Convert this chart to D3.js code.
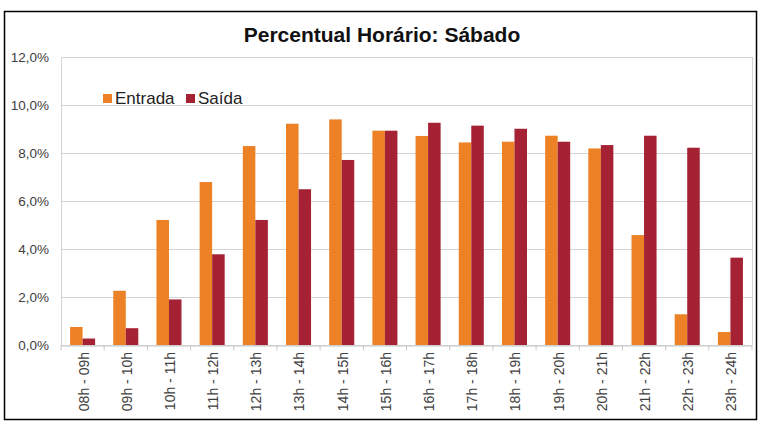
<!DOCTYPE html>
<html><head><meta charset="utf-8">
<script src="https://cdn.jsdelivr.net/npm/d3@7"></script>
<style>body{margin:0;background:#fff}svg{display:block}</style>
</head><body>
<svg id="c" width="767" height="429"></svg>
<script>
const categories = ["08h - 09h","09h - 10h","10h - 11h","11h - 12h","12h - 13h","13h - 14h","14h - 15h","15h - 16h","16h - 17h","17h - 18h","18h - 19h","19h - 20h","20h - 21h","21h - 22h","22h - 23h","23h - 24h"];
const entrada = [0.75, 2.26, 5.21, 6.79, 8.29, 9.22, 9.40, 8.93, 8.71, 8.44, 8.47, 8.72, 8.19, 4.58, 1.28, 0.54];
const saida   = [0.27, 0.70, 1.90, 3.78, 5.21, 6.49, 7.71, 8.93, 9.26, 9.14, 9.01, 8.47, 8.33, 8.72, 8.22, 3.64];
const seriesNames = ["Entrada","Saída"];
const yTicks = [0,2,4,6,8,10,12];
const title = "Percentual Horário: Sábado";

const colors = ["#EC8126","#A52234"];
const svg = d3.select("#c");
const font = "Liberation Sans, Arial, sans-serif";

// outer frame
svg.append("rect").attr("x",4.5).attr("y",11.5).attr("width",752).attr("height",408)
  .attr("fill","none").attr("stroke","#000").attr("stroke-width",1.5);

svg.append("text").attr("x",382).attr("y",42).attr("text-anchor","middle")
  .attr("font-family",font).attr("font-weight","bold").attr("font-size",21).attr("fill","#111")
  .text(title);

const m = {left:61, right:752, top:57, bottom:345};
const x = d3.scaleBand().domain(categories).range([m.left,m.right]).paddingInner(0).paddingOuter(0);
const y = d3.scaleLinear().domain([0,12]).range([m.bottom,m.top]);

// gridlines
svg.append("g").selectAll("line").data(yTicks).join("line")
  .attr("x1",m.left).attr("x2",m.right).attr("y1",d=>y(d)+0.5).attr("y2",d=>y(d)+0.5)
  .attr("stroke","#d4d4d4").attr("stroke-width",1);
// plot border right
svg.append("line").attr("x1",m.right+0.5).attr("x2",m.right+0.5).attr("y1",m.top).attr("y2",m.bottom)
  .attr("stroke","#d4d4d4");

// y axis
const yAxis = d3.axisLeft(y).tickValues(yTicks).tickSize(0).tickPadding(12)
  .tickFormat(d=>d.toFixed(1).replace(".",",")+"%");
const gy = svg.append("g").attr("transform",`translate(${m.left},0)`).call(yAxis);
gy.select(".domain").attr("stroke","#d4d4d4");
gy.selectAll("text").attr("font-family",font).attr("font-size",13.5).attr("fill","#404040");

// bars
const bw = x.bandwidth()/3.45;
const groups = svg.append("g").selectAll("g").data(categories).join("g")
  .attr("transform",d=>`translate(${x(d)+x.bandwidth()/2 - bw},0)`);
[entrada,saida].forEach((arr,si)=>{
  groups.append("rect")
    .attr("x",si*bw).attr("width",bw)
    .attr("y",(d,i)=>y(arr[i])).attr("height",(d,i)=>y(0)-y(arr[i]))
    .attr("fill",colors[si]);
});

// x axis
const xAxis = d3.axisBottom(x).tickSize(0).tickPadding(0);
const gx = svg.append("g").attr("transform",`translate(0,${m.bottom+0.5})`).call(xAxis);
gx.select(".domain").attr("stroke","#c8c8c8");
gx.selectAll(".tick text").remove();
// category boundary ticks
gx.selectAll("line.bt").data(categories.concat(["end"])).join("line").attr("class","bt")
  .attr("x1",(d,i)=>m.left+i*x.step()).attr("x2",(d,i)=>m.left+i*x.step())
  .attr("y1",0).attr("y2",5).attr("stroke","#c8c8c8");
svg.append("g").selectAll("text").data(categories).join("text")
  .attr("transform",d=>`translate(${x(d)+x.bandwidth()/2 + 1},${m.bottom+7}) rotate(-90)`)
  .attr("text-anchor","end").attr("dy","0.35em")
  .attr("font-family",font).attr("font-size",14).attr("fill","#404040")
  .text(d=>d);

// legend
const lg = svg.append("g").attr("transform","translate(103,98)");
const items = [{n:seriesNames[0],c:colors[0],x:0},{n:seriesNames[1],c:colors[1],x:83}];
items.forEach(it=>{
  lg.append("rect").attr("x",it.x).attr("y",-4).attr("width",9).attr("height",9).attr("fill",it.c);
  lg.append("text").attr("x",it.x+12).attr("y",0).attr("dy","0.35em")
    .attr("font-family",font).attr("font-size",17).attr("fill","#222").text(it.n);
});
</script>
</body></html>
